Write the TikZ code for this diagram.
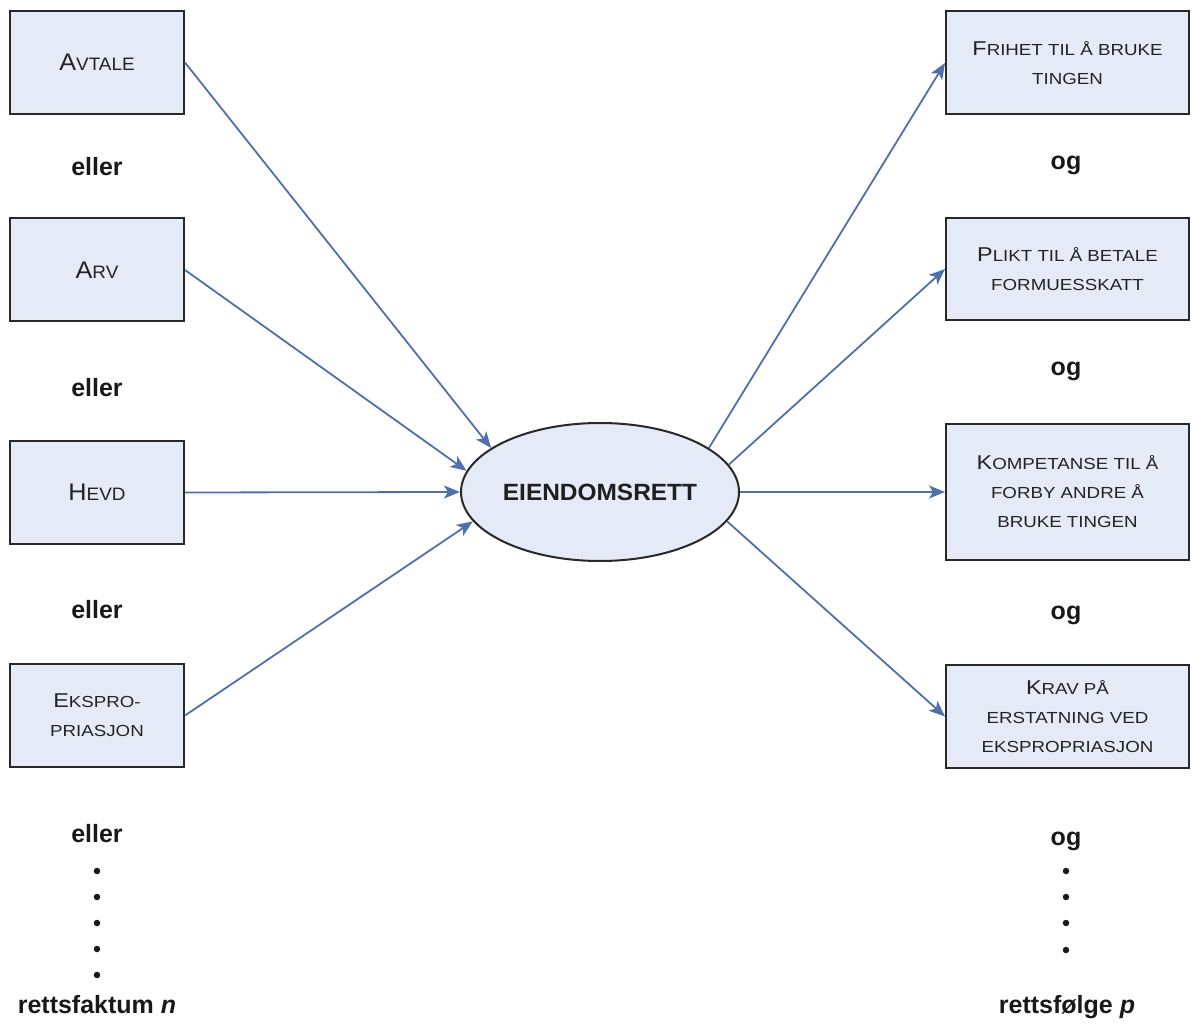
\documentclass[tikz,border=0pt]{standalone}
\usepackage{fontspec}
\setmainfont{Liberation Sans}
\newfontfamily\rbfont[FakeStretch=1.17]{Liberation Sans}
\newfontfamily\lbfont[FakeStretch=1.05]{Liberation Sans}
\newfontfamily\elfont[FakeStretch=1.04]{Liberation Sans}
\usetikzlibrary{shapes.geometric,arrows.meta}
\definecolor{boxfill}{RGB}{228,234,246}
\definecolor{boxline}{RGB}{40,40,40}
\definecolor{arrowblue}{RGB}{79,112,170}
\definecolor{txtgray}{RGB}{35,35,35}
\newcommand\rbL{\fontsize{20}{29}\selectfont}
\newcommand\rbS{\fontsize{16}{29}\selectfont}
\newcommand\lbL{\fontsize{24}{29}\selectfont}
\newcommand\lbS{\fontsize{18}{29}\selectfont}
\begin{document}
\begin{tikzpicture}[x=1pt,y=-1pt,
  boxbase/.style={draw=boxline, line width=2pt, fill=boxfill, rectangle, text=txtgray, align=center, inner sep=0pt},
  rbox/.style={boxbase, minimum width=243pt, font=\rbfont\rbS},
  lbox/.style={boxbase, minimum width=174pt, minimum height=103pt, font=\lbfont\lbS},
  lab/.style={font=\fontsize{25}{30}\selectfont\bfseries, text=black!90, anchor=base, inner sep=0pt},
  dotnode/.style={circle, fill=black!90, inner sep=0pt, minimum size=6.5pt},
  arr/.style={draw=arrowblue, line width=1.8pt, -{Stealth[length=16pt,width=13pt,inset=4pt]}}
]
\useasboundingbox (0,0) rectangle (1192,1024);
\fill[white] (0,0) rectangle (1192,1024);

% left boxes
\node[lbox] (avtale) at (97,62.5) {{\lbL A}VTALE};
\node[lbox] (arv) at (97,270) {{\lbL A}RV};
\node[lbox] (hevd) at (97,492.5) {{\lbL H}EVD};
\node[lbox, font=\rbfont\rbS] (ekspro) at (97,715.5) {{\rbL E}KSPRO-\\PRIASJON};

% right boxes
\node[rbox, minimum height=103pt] (frihet) at (1067.5,63) {{\rbL F}RIHET TIL Å BRUKE\\TINGEN};
\node[rbox, minimum height=102pt] (plikt) at (1067.5,269) {{\rbL P}LIKT TIL Å BETALE\\FORMUESSKATT};
\node[rbox, minimum height=136pt] (kompetanse) at (1067.5,492) {{\rbL K}OMPETANSE TIL Å\\FORBY ANDRE Å\\BRUKE TINGEN};
\node[rbox, minimum height=103pt] (krav) at (1067.5,716.5) {{\rbL K}RAV PÅ\\ERSTATNING VED\\EKSPROPRIASJON};

% ellipse
\node[ellipse, draw=boxline, line width=2pt, fill=boxfill, minimum width=278pt, minimum height=138pt, inner sep=0pt,
      font=\elfont\fontsize{23.5}{28}\selectfont\bfseries, text=black!88] (ell) at (600,492) {EIENDOMSRETT};

% left labels
\node[lab] (el1) at (97,176) {eller};
\node[lab] (el2) at (97,396) {eller};
\node[lab] (el3) at (97,618) {eller};
\node[lab] (el4) at (97,842) {eller};
\node[dotnode] (ld1) at (97,871) {};
\node[dotnode] (ld2) at (97,897) {};
\node[dotnode] (ld3) at (97,923) {};
\node[dotnode] (ld4) at (97,949) {};
\node[dotnode] (ld5) at (97,975) {};
\node[lab] (rf) at (97,1013) {rettsfaktum \textit{n}};

% right labels
\node[lab] (og1) at (1066,170) {og};
\node[lab] (og2) at (1066,376) {og};
\node[lab] (og3) at (1066,619) {og};
\node[lab] (og4) at (1066,845) {og};
\node[dotnode] (rd1) at (1066,871) {};
\node[dotnode] (rd2) at (1066,897) {};
\node[dotnode] (rd3) at (1066,923) {};
\node[dotnode] (rd4) at (1066,950) {};
\node[lab] (rfo) at (1067,1013) {rettsfølge \textit{p}};

% arrows in
\draw[arr] (avtale.east) -- (ell.158.2);
\draw[arr] (arv.east) -- (ell.171.6);
\draw[arr] (hevd.east) -- (ell.west);
\draw[arr] (ekspro.east) -- (ell.193);

% arrows out
\draw[arr] (ell.22.4) -- (frihet.west);
\draw[arr] (ell.12.6) -- (plikt.west);
\draw[arr] (ell.east) -- (kompetanse.west);
\draw[arr] (ell.-13) -- (krav.west);
\end{tikzpicture}
\end{document}
